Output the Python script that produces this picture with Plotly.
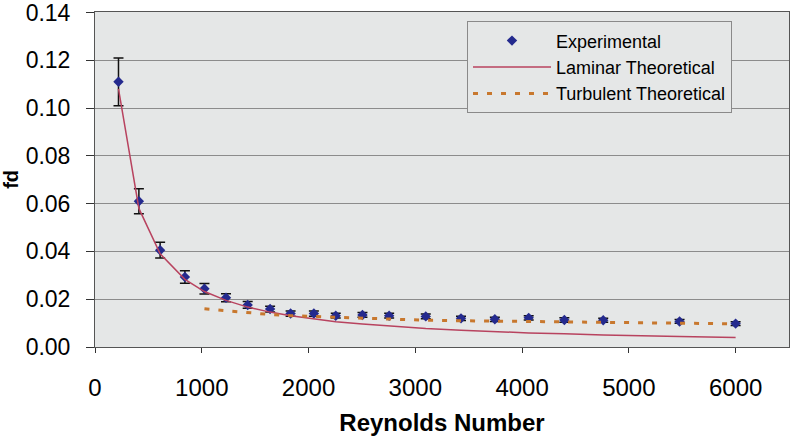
import plotly.graph_objects as go

# Experimental data
re_exp = [220, 411, 610, 842, 1025, 1227, 1430, 1640, 1832, 2050, 2255,
          2505, 2755, 3098, 3428, 3745, 4062, 4396, 4760, 5475, 6000]
f_exp = [0.111, 0.061, 0.0405, 0.0293, 0.0244, 0.0206, 0.0176, 0.0159, 0.0140,
         0.0140, 0.0131, 0.0134, 0.0131, 0.0128, 0.0120, 0.0116, 0.0122, 0.0113,
         0.0112, 0.0107, 0.0098]
f_err = [0.0100, 0.0052, 0.0033, 0.0026, 0.0022, 0.0017, 0.0014, 0.0012, 0.0011,
         0.0011, 0.0010, 0.0010, 0.0010, 0.0010, 0.0009, 0.0009, 0.0009, 0.0009,
         0.0008, 0.0008, 0.0008]

# Laminar theoretical
re_lam = re_exp
f_lam = [0.108, 0.058, 0.039, 0.0283, 0.0232, 0.0195, 0.0167, 0.0146, 0.0131,
         0.0117, 0.0106, 0.0096, 0.0087, 0.0077, 0.0070, 0.0064, 0.0059, 0.0055,
         0.0050, 0.0044, 0.0040]

# Turbulent theoretical
re_turb = [1025, 1227, 1430, 1640, 1832, 2050, 2255, 2505, 2755, 3098, 3428,
           3745, 4062, 4396, 4760, 5475, 6000]
f_turb = [0.0160, 0.0152, 0.0142, 0.0136, 0.0131, 0.0128, 0.0124, 0.0120, 0.0116,
          0.0112, 0.0110, 0.0108, 0.0106, 0.0104, 0.0102, 0.0099, 0.0097]

x_ticks = [0, 1000, 2000, 3000, 4000, 5000, 6000]
y_ticks = [0.00, 0.02, 0.04, 0.06, 0.08, 0.10, 0.12, 0.14]

FONT = "Liberation Sans, Arial, sans-serif"
PLOT_BG = "#e5e7e7"

fig = go.Figure()
fig.add_trace(go.Scatter(
    x=re_exp, y=f_exp, mode="markers", name="Experimental",
    marker=dict(symbol="diamond", size=8, color="#242a8e"),
    error_y=dict(type="data", array=f_err, visible=True, color="#111111",
                 thickness=1.5, width=5),
))
fig.add_trace(go.Scatter(
    x=re_lam, y=f_lam, mode="lines", name="Laminar Theoretical",
    line=dict(color="#b8435f", width=1.5),
))
fig.add_trace(go.Scatter(
    x=re_turb, y=f_turb, mode="lines", name="Turbulent Theoretical",
    line=dict(color="#c8782e", width=3, dash="5px,9px"),
))

fig.update_layout(
    width=796, height=438,
    margin=dict(l=95, r=7, t=12, b=91),
    paper_bgcolor="white",
    plot_bgcolor=PLOT_BG,
    font=dict(family=FONT, color="black"),
    showlegend=True,
    legend=dict(
        x=0.536, y=0.972, xanchor="left", yanchor="top",
        bgcolor=PLOT_BG, bordercolor="#8a8a8a", borderwidth=1,
        font=dict(size=18, family=FONT), itemwidth=78,
        tracegroupgap=0,
    ),
    xaxis=dict(
        range=[0, 6500], tickvals=x_ticks, ticktext=[str(v) for v in x_ticks],
        ticks="outside", ticklen=5, tickcolor="#333", showgrid=False,
        showline=True, linecolor="#555", linewidth=1, mirror=True,
        zeroline=False, tickfont=dict(size=24), ticklabelstandoff=14,
        automargin=False,
        title=dict(text="<b>Reynolds Number</b>", font=dict(size=24), standoff=14),
    ),
    yaxis=dict(
        range=[0, 0.1402], tickvals=y_ticks, ticktext=[f"{v:.2f}" for v in y_ticks],
        ticks="outside", ticklen=8, tickcolor="#333", showgrid=True,
        gridcolor="#8c8c8c", gridwidth=1,
        showline=True, linecolor="#555", linewidth=1, mirror=True,
        zeroline=False, tickfont=dict(size=23), ticklabelstandoff=11,
        ticklabeloverflow="allow", automargin=False,
    ),
    annotations=[dict(
        text="<b>fd</b>", xref="paper", yref="paper", x=-0.122, y=0.5,
        xanchor="center", yanchor="middle", textangle=-90, showarrow=False,
        font=dict(size=20, family=FONT),
    )],
)

fig.write_html("out.html")
